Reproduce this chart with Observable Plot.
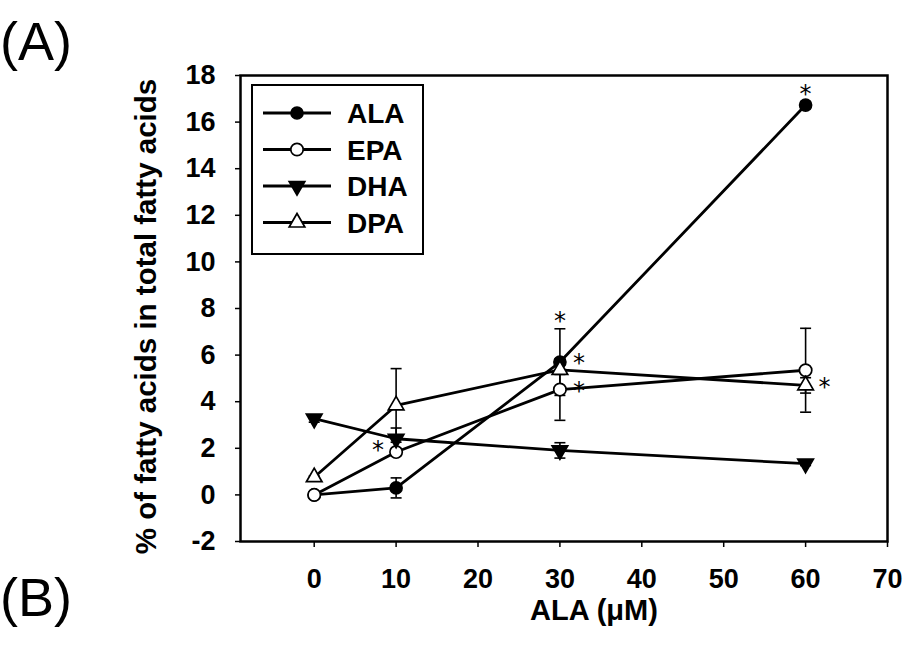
<!DOCTYPE html>
<html>
<head>
<meta charset="utf-8">
<script src="https://cdn.jsdelivr.net/npm/d3@7"></script>
<script src="https://cdn.jsdelivr.net/npm/@observablehq/plot@0.6"></script>
<style>
  html, body { margin: 0; padding: 0; background: #fff; }
  #wrap { position: relative; width: 907px; height: 646px; overflow: hidden; }
  #chart { position: absolute; left: 0; top: 0; }
  .panel { position: absolute; left: 0; font-family: "Liberation Sans", Arial, sans-serif; font-size: 54px; line-height: 1; color: #000; }
  #legend { position: absolute; left: 251px; top: 84px; }
</style>
</head>
<body>
<div id="wrap">
  <div id="chart"></div>
  <div class="panel" style="top:14px;">(A)</div>
  <div class="panel" style="top:570px;">(B)</div>
  <div id="legend"></div>
</div>
<script>
// ---- data ----
const concentrations = [0, 10, 30, 60];
const seriesNames = ["ALA", "EPA", "DHA", "DPA"];
const alaMean = [0.0, 0.30, 5.70, 16.73];
const alaErr  = [0.05, 0.43, 1.43, 0.15];
const epaMean = [0.0, 1.84, 4.52, 5.35];
const epaErr  = [0.05, 0.15, 1.32, 1.80];
const dhaMean = [3.27, 2.41, 1.91, 1.34];
const dhaErr  = [0.15, 0.46, 0.33, 0.08];
const dpaMean = [0.76, 3.84, 5.37, 4.70];
const dpaErr  = [0.05, 1.58, 0.20, 0.33];
const xTicks = [0, 10, 20, 30, 40, 50, 60, 70];
const yTicks = [-2, 0, 2, 4, 6, 8, 10, 12, 14, 16, 18];
// significance asterisks
const starSeries = ["ALA", "ALA", "DPA", "EPA", "EPA", "DPA"];
const starConc   = [60, 30, 30, 30, 10, 60];
const starSide   = ["above", "above", "upper-right", "right", "left", "right"];

const means = {ALA: alaMean, EPA: epaMean, DHA: dhaMean, DPA: dpaMean};
const errs = {ALA: alaErr, EPA: epaErr, DHA: dhaErr, DPA: dpaErr};
const rows = seriesNames.flatMap(s => concentrations.map((c, i) => ({
  series: s, x: c, y: means[s][i], lo: means[s][i] - errs[s][i], hi: means[s][i] + errs[s][i]
})));
const lookup = (s, c) => rows.find(r => r.series === s && r.x === c);
const stars = starSeries.map((s, i) => {
  const r = lookup(s, starConc[i]);
  return {side: starSide[i], x: r.x, y: starSide[i] === "above" ? r.hi : r.y};
});

// ---- symbols ----
const sqrt3 = Math.sqrt(3);
const triangleDown = {
  draw(ctx, size) {
    const y = -Math.sqrt(size / (sqrt3 * 3));
    ctx.moveTo(0, -y * 2);
    ctx.lineTo(-sqrt3 * y, y);
    ctx.lineTo(sqrt3 * y, y);
    ctx.closePath();
  }
};
const capSymbol = { draw(ctx) { ctx.moveTo(-5.5, 0); ctx.lineTo(5.5, 0); } };
const styles = {
  ALA: {symbol: "circle", fill: "black", r: 6},
  EPA: {symbol: "circle", fill: "white", r: 6.2},
  DHA: {symbol: triangleDown, fill: "black", r: 5.8},
  DPA: {symbol: "triangle", fill: "white", r: 5.8}
};

const font = "'Liberation Sans', Arial, sans-serif";
const bySeries = s => rows.filter(r => r.series === s);
const star = (side, dx, dy) => Plot.text(stars.filter(d => d.side === side),
  {x: "x", y: "y", text: () => "*", dx, dy, fontSize: 24, fontFamily: "DejaVu Sans", fill: "black"});

const plot = Plot.plot({
  width: 907,
  height: 646,
  marginLeft: 240,
  marginRight: 20,
  marginTop: 75,
  marginBottom: 105,
  style: {fontFamily: font, background: "white", color: "black"},
  x: {domain: [-9, 70]},
  y: {domain: [-2, 18]},
  marks: [
    Plot.axisX({ticks: xTicks, tickSize: 6, tickPadding: 21, tickFormat: d => d, fontSize: 27, fontWeight: "bold", strokeWidth: 1.5, label: null}),
    Plot.axisY({ticks: yTicks, tickSize: 5, tickPadding: 20, tickFormat: d => d, fontSize: 27, fontWeight: "bold", strokeWidth: 1.5, label: null}),
    Plot.frame({stroke: "black", strokeWidth: 2.5}),
    Plot.text(["% of fatty acids in total fatty acids"], {frameAnchor: "left", textAnchor: "middle", lineAnchor: "middle", dx: -94, dy: 8, rotate: -90, fontSize: 29.5, fontWeight: "bold"}),
    Plot.text(["ALA (μM)"], {frameAnchor: "bottom", textAnchor: "middle", lineAnchor: "middle", dx: 30, dy: 69, fontSize: 29, fontWeight: "bold"}),
    // error bars
    Plot.ruleX(rows, {x: "x", y1: "lo", y2: "hi", stroke: "black", strokeWidth: 1.6}),
    Plot.dot(rows, {x: "x", y: "hi", symbol: capSymbol, stroke: "black", strokeWidth: 1.6, fill: "none"}),
    Plot.dot(rows, {x: "x", y: "lo", symbol: capSymbol, stroke: "black", strokeWidth: 1.6, fill: "none"}),
    // lines
    Plot.line(rows, {x: "x", y: "y", z: "series", stroke: "black", strokeWidth: 2.8}),
    // markers
    ...seriesNames.map(s => Plot.dot(bySeries(s), {x: "x", y: "y", symbol: styles[s].symbol, r: styles[s].r, fill: styles[s].fill, stroke: "black", strokeWidth: 1.7})),
    // asterisks
    star("above", 0, -7),
    star("upper-right", 19, -6),
    star("right", 19, 2),
    star("left", -18, -2)
  ]
});
document.getElementById("chart").appendChild(plot);

// ---- legend ----
const lg = d3.select("#legend").append("svg").attr("width", 173).attr("height", 171);
lg.append("rect").attr("x", 1).attr("y", 1).attr("width", 171).attr("height", 169)
  .attr("fill", "white").attr("stroke", "black").attr("stroke-width", 2);
seriesNames.forEach((s, i) => {
  const cy = 29 + i * 36.5;
  const g = lg.append("g").attr("transform", `translate(0,${cy})`);
  g.append("line").attr("x1", 12).attr("x2", 80).attr("stroke", "black").attr("stroke-width", 2.8);
  const r = styles[s].r;
  const sym = typeof styles[s].symbol === "string" ? (styles[s].symbol === "circle" ? d3.symbolCircle : d3.symbolTriangle) : styles[s].symbol;
  g.append("path").attr("transform", "translate(46,0)").attr("d", d3.symbol(sym, Math.PI * r * r)())
    .attr("fill", styles[s].fill).attr("stroke", "black").attr("stroke-width", 1.7);
  g.append("text").attr("x", 96).attr("dy", "0.36em").text(s)
    .attr("font-family", font).attr("font-weight", "bold").attr("font-size", 28);
});
</script>
</body>
</html>
